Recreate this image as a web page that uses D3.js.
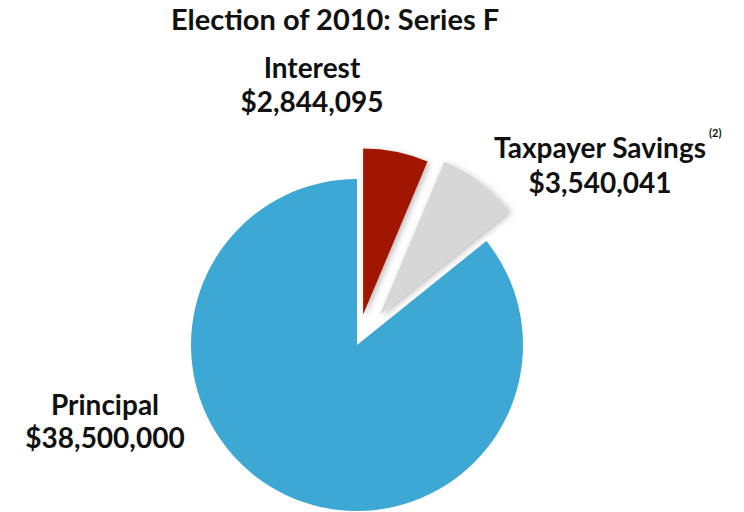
<!DOCTYPE html>
<html>
<head>
<meta charset="utf-8">
<script src="https://cdn.jsdelivr.net/npm/d3@7/dist/d3.min.js"></script>
<style>
  html, body { margin: 0; padding: 0; background: #fff; }
  svg text { font-family: Lato, "Open Sans", sans-serif; font-weight: 700; fill: #111; }
</style>
</head>
<body>
<svg id="chart" width="744" height="512"></svg>
<script>
// Series F (2010 election) breakdown
const categories = ["Interest", "Taxpayer Savings", "Principal"];
const values = [2844095, 3540041, 38500000];
const valueLabels = ["$2,844,095", "$3,540,041", "$38,500,000"];
const footnotes = ["", "(2)", ""];

const colors = { "Interest": "#A11600", "Taxpayer Savings": "#D7D7D7", "Principal": "#3EA8D5" };
const explode = { "Interest": 31, "Taxpayer Savings": 38, "Principal": 0 };

const svg = d3.select("#chart");
const cx = 357, cy = 345, radius = 166;

const defs = svg.append("defs");
const f = defs.append("filter").attr("id", "shadow")
  .attr("x", "-20%").attr("y", "-20%").attr("width", "140%").attr("height", "140%");
f.append("feDropShadow").attr("dx", 2).attr("dy", 2).attr("stdDeviation", 3)
  .attr("flood-color", "#000").attr("flood-opacity", 0.28);

const data = categories.map((c, i) => ({ name: c, value: values[i], label: valueLabels[i], note: footnotes[i] }));

const pie = d3.pie().sort(null).value(d => d.value).startAngle(0);
const arc = d3.arc().innerRadius(0).outerRadius(radius);
const arcs = pie(data);

const g = svg.append("g").attr("transform", `translate(${cx},${cy})`);

g.selectAll("path.slice")
  .data(arcs)
  .join("path")
  .attr("class", "slice")
  .attr("d", arc)
  .attr("fill", d => colors[d.data.name])
  .attr("filter", d => explode[d.data.name] > 0 ? "url(#shadow)" : null)
  .attr("transform", d => {
    const mid = (d.startAngle + d.endAngle) / 2;
    const o = explode[d.data.name];
    return `translate(${o * Math.sin(mid)},${-o * Math.cos(mid)})`;
  });

// Title
svg.append("text")
  .attr("x", 335).attr("y", 30)
  .attr("text-anchor", "middle")
  .style("font-size", "29px")
  .text("Election of 2010: Series F");

// Slice labels: [x, name baseline, amount baseline]
const labelPos = {
  "Interest": [312, 78, 112],
  "Taxpayer Savings": [600, 158, 193],
  "Principal": [105, 415, 448]
};

data.forEach(d => {
  const [x, y1, y2] = labelPos[d.name];
  const t1 = svg.append("text")
    .attr("x", x).attr("y", y1)
    .attr("text-anchor", "middle")
    .style("font-size", "28px")
    .text(d.name);
  if (d.note) {
    const bb = t1.node().getBBox();
    svg.append("text")
      .attr("x", bb.x + bb.width + 3).attr("y", y1 - 21)
      .style("font-size", "11px")
      .text(d.note);
  }
  svg.append("text")
    .attr("x", x).attr("y", y2)
    .attr("text-anchor", "middle")
    .style("font-size", "28px")
    .text(d.label);
});
</script>
</body>
</html>
